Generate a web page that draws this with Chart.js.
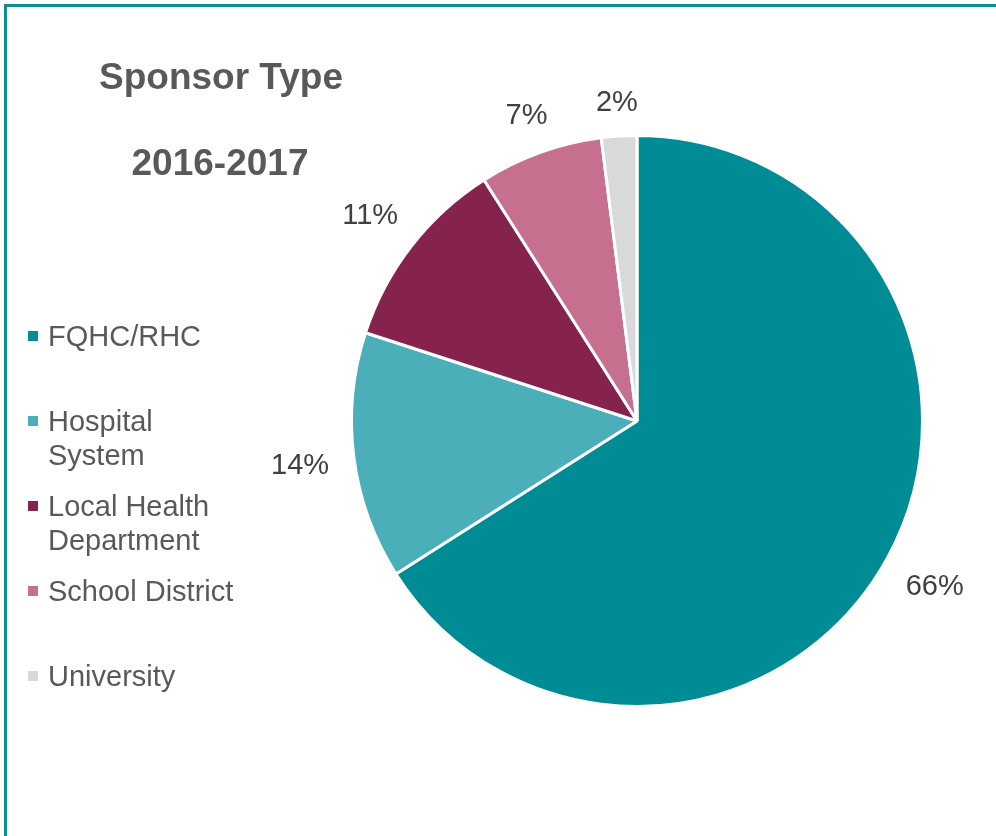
<!DOCTYPE html>
<html>
<head>
<meta charset="utf-8">
<script src="https://cdn.jsdelivr.net/npm/chart.js@4/dist/chart.umd.min.js"></script>
<style>
  html, body { margin: 0; padding: 0; background: #fff; overflow: hidden; }
  #wrap { position: relative; width: 996px; height: 836px; }
  #frame { position: absolute; left: 4px; top: 4px; width: 1100px; height: 1000px;
           border-left: 3px solid #0B8F96; border-top: 3px solid #0B8F96; }
  canvas { position: absolute; left: 0; top: 0; }
</style>
</head>
<body>
<div id="wrap">
  <div id="frame"></div>
  <canvas id="chart" width="996" height="836"></canvas>
</div>
<script>
// data
const categories = ["FQHC/RHC", ["Hospital", "System"], ["Local Health", "Department"], "School District", "University"];
const shares = [66, 14, 11, 7, 2];
const colors = ["#008C95", "#4BAFBA", "#85234E", "#C66F8E", "#D9D9D9"];
const titleLines = ["Sponsor Type", "2016-2017"];

const FONT = "'Liberation Sans', Arial, sans-serif";

// title + left legend, drawn from the chart's own data
const sideText = {
  id: "sideText",
  afterDraw(chart) {
    const ctx = chart.ctx;
    ctx.save();
    ctx.fillStyle = "#595959";
    ctx.textAlign = "center";
    ctx.textBaseline = "middle";
    ctx.font = "bold 37px " + FONT;
    ctx.fillText(titleLines[0], 221, 79);
    ctx.fillText(titleLines[1], 220, 165);

    ctx.textAlign = "left";
    ctx.font = "29px " + FONT;
    const labels = chart.data.labels;
    const bg = chart.data.datasets[0].backgroundColor;
    labels.forEach((lab, i) => {
      const y = 336 + i * 85;
      ctx.fillStyle = bg[i];
      ctx.fillRect(28, y - 5, 10, 10);
      ctx.fillStyle = "#595959";
      const lines = Array.isArray(lab) ? lab : [lab];
      lines.forEach((ln, j) => ctx.fillText(ln, 48, y + 2 + j * 34));
    });
    ctx.restore();
  }
};

// outside percentage labels
const outsideLabels = {
  id: "outsideLabels",
  afterDatasetsDraw(chart) {
    const ctx = chart.ctx;
    const meta = chart.getDatasetMeta(0);
    const vals = chart.data.datasets[0].data;
    ctx.save();
    ctx.font = "29px " + FONT;
    ctx.fillStyle = "#404040";
    ctx.textAlign = "center";
    ctx.textBaseline = "middle";
    meta.data.forEach((arc, i) => {
      const p = arc.getProps(["x", "y", "startAngle", "endAngle", "outerRadius"], true);
      const a = (p.startAngle + p.endAngle) / 2;
      const txt = vals[i] + "%";
      const w = ctx.measureText(txt).width;
      const h = 20;
      const d = p.outerRadius + 24 + Math.abs(Math.cos(a)) * w / 2 + Math.abs(Math.sin(a)) * h / 2;
      ctx.fillText(txt, p.x + Math.cos(a) * d, p.y + 2 + Math.sin(a) * d);
    });
    ctx.restore();
  }
};

new Chart(document.getElementById("chart"), {
  type: "pie",
  data: {
    labels: categories,
    datasets: [{
      data: shares,
      backgroundColor: colors,
      borderColor: "#ffffff",
      borderWidth: 3
    }]
  },
  options: {
    responsive: false,
    animation: false,
    layout: { padding: { left: 350, right: 72, top: 134, bottom: 128 } },
    plugins: {
      legend: { display: false },
      tooltip: { enabled: false }
    }
  },
  plugins: [sideText, outsideLabels]
});
</script>
</body>
</html>
